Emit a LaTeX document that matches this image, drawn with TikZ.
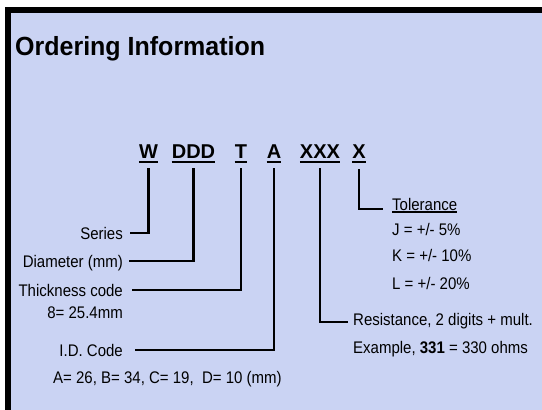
\documentclass[tikz,border=0pt]{standalone}
\usepackage{fontspec}
\setmainfont{Liberation Sans}
\definecolor{panel}{RGB}{202,211,243}
\newcommand{\tallbox}[1]{\scalebox{1}[1.12]{#1}}
\begin{document}
\begin{tikzpicture}[x=1pt,y=-1pt,
  lbl/.style={inner sep=0pt, font=\fontsize{15}{18}\selectfont, text height=12pt, text depth=0pt},
  codebox/.style={inner sep=0pt, font=\fontsize{20}{24}\selectfont\bfseries, text depth=0pt, anchor=base},
  conn/.style={line width=2.6pt},
  uline/.style={line width=2pt}]
\useasboundingbox (0,0) rectangle (542,410);
\fill[white] (0,0) rectangle (542,410);
\fill[black] (4.5,7) rectangle (542,410);
\fill[panel] (10.5,13) rectangle (542,410);

\node[anchor=base west, inner sep=0pt, font=\fontsize{25}{30}\selectfont\bfseries] (title) at (15,55) {\scalebox{1}[1.05]{Ordering Information}};

% code letters
\node[codebox] (w) at (148.5,158) {W};
\node[codebox] (ddd) at (193.5,158) {DDD};
\node[codebox] (t) at (241,158) {T};
\node[codebox] (a) at (274,158) {A};
\node[codebox] (xxx) at (320,158) {XXX};
\node[codebox] (x) at (359,158) {X};
\foreach \n in {w,ddd,t,a,xxx,x}
  \draw[uline] ([yshift=-4pt]\n.base west) -- ([yshift=-4pt]\n.base east);

% left labels
\node[lbl, anchor=east] (series) at (123,233) {\tallbox{Series}};
\node[lbl, anchor=east] (diam) at (123,261) {\tallbox{Diameter (mm)}};
\node[lbl, anchor=east] (thick) at (123,290) {\tallbox{Thickness code}};
\node[lbl, anchor=east] (thickv) at (123,312) {\tallbox{8= 25.4mm}};
\node[lbl, anchor=east] (idc) at (123,350) {\tallbox{I.D. Code}};
\node[lbl, anchor=west] (idv) at (53,377) {\tallbox{A= 26, B= 34, C= 19,~ D= 10 (mm)}};

% right labels
\node[lbl, anchor=west] (tol) at (392,204) {\tallbox{Tolerance}};
\draw[line width=1.6pt] ([yshift=-2pt]tol.base west) -- ([yshift=-2pt]tol.base east);
\node[lbl, anchor=west] (tj) at (392,229) {\tallbox{J = +/- 5\%}};
\node[lbl, anchor=west] (tk) at (392,255) {\tallbox{K = +/- 10\%}};
\node[lbl, anchor=west] (tl) at (392,283) {\tallbox{L = +/- 20\%}};
\node[lbl, anchor=west] (res) at (353,319) {\tallbox{Resistance, 2 digits + mult.}};
\node[lbl, anchor=west] (ex) at (353,347) {\tallbox{Example, \textbf{331} = 330 ohms}};

% connectors
\draw[conn] ([yshift=-10pt]w.base) |- ([xshift=7pt]series.east);
\draw[conn] ([yshift=-10pt]ddd.base) |- ([xshift=6pt]diam.east);
\draw[conn] ([yshift=-10pt]t.base) |- ([xshift=9pt]thick.east);
\draw[conn] ([yshift=-10pt]a.base) |- ([xshift=12pt]idc.east);
\draw[conn] ([yshift=-10pt]xxx.base) |- ([xshift=-5pt,yshift=-3pt]res.west);
\draw[conn] ([yshift=-11pt]x.base) |- ([xshift=-9pt,yshift=-5pt]tol.west);
\end{tikzpicture}
\end{document}
